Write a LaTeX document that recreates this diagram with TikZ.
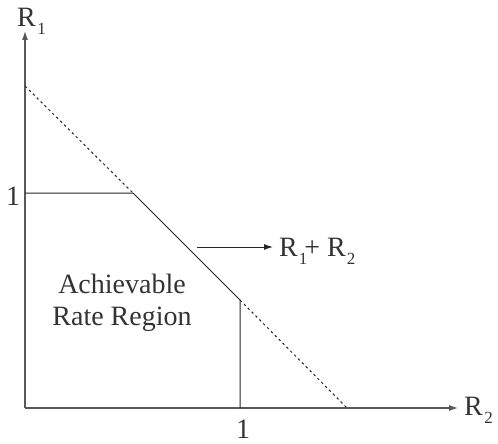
\documentclass[tikz,border=0pt]{standalone}
\usepackage{fontspec}
\setmainfont{Liberation Serif}
\usetikzlibrary{arrows.meta}
\newcommand{\lbsub}[1]{\raisebox{-8pt}{\fontsize{17}{17}\selectfont #1}}
\begin{document}
\begin{tikzpicture}[x=1pt,y=-1pt,
  axis/.style={draw=black!65,line width=1.1pt,-{Latex[length=9pt,width=6pt]}},
  bound/.style={draw=black!85,line width=1pt},
  dotline/.style={draw=black!85,line width=1pt,dash pattern=on 2.5pt off 3pt},
  lab/.style={inner sep=0pt,font=\fontsize{28}{32}\selectfont,text=black!80}]
\useasboundingbox (0,0) rectangle (498,444);
\coordinate (O) at (25,408);
\coordinate (Ytop) at (25,31);
\coordinate (Xend) at (458,408);
\coordinate (A) at (25,86);
\coordinate (Y1) at (25,193);
\coordinate (B) at (133,193);
\coordinate (C) at (240,300);
\coordinate (X1) at (240,408);
\coordinate (D) at (347,408);
\coordinate (S) at (197,247);
\coordinate (T) at (273,247);
\draw[axis] (O) -- (Ytop);
\draw[axis] (O) -- (Xend);
\draw[bound] (Y1) -- (B) -- (C) -- (X1);
\draw[dotline] (A) -- (B);
\draw[dotline] (C) -- (D);
\draw[bound,-{Latex[length=9pt,width=6pt]}] (S) -- (T);
\node[lab,anchor=base west] (r1) at (17,27) {R\kern1.5pt\lbsub{1}};
\node[lab,anchor=base west] (r2) at (464,415) {R\kern1.5pt\lbsub{2}};
\node[lab,anchor=base west] (sum) at (279,256) {R\kern1pt\lbsub{1}\kern-3pt+ R\kern1pt\lbsub{2}};
\node[lab,anchor=base] (one1) at (13,205) {1};
\node[lab,anchor=base] (one2) at (243,438) {1};
\node[lab,align=center,anchor=base] (reg) at (122,325) {Achievable\\Rate Region};
\end{tikzpicture}
\end{document}
